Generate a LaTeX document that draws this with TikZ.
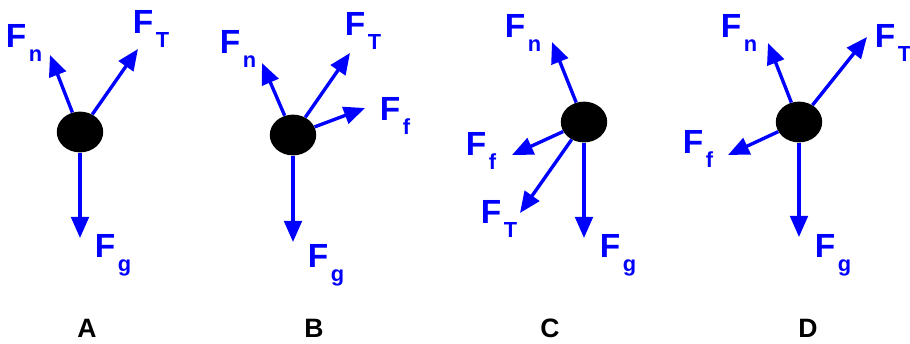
\documentclass[tikz,border=0pt]{standalone}
\usepackage{fontspec}
\setmainfont{Liberation Sans}
\usepackage{xcolor}
\usetikzlibrary{arrows.meta,shapes.geometric}
\definecolor{forceBlue}{HTML}{0000FF}
\newcommand{\forcelab}[1]{F\kern0.08em\raisebox{-0.42em}{\fontsize{15.5pt}{16pt}\selectfont #1}}
\tikzset{
  ball/.style={ellipse, fill=black, draw=none, minimum width=33pt, minimum height=29pt, inner sep=0pt},
  forcearrow/.style={-{Triangle[length=15pt,width=12.5pt]}, line width=2.4pt, draw=forceBlue},
  forcelabel/.style={anchor=base west, inner sep=0pt, text=forceBlue, font=\fontsize{23.8pt}{26pt}\selectfont\bfseries},
  panellabel/.style={anchor=base, inner sep=0pt, font=\fontsize{18.9pt}{20pt}\selectfont\bfseries},
}

\begin{document}
\begin{tikzpicture}[x=0.025cm,y=-0.025cm]
  \useasboundingbox (0,0) rectangle (910,343);

  % Panel A
  \node[ball] (a_ball) at (80,132) {};
  \coordinate (a_fn_tip) at (50,55);
  \coordinate (a_ft_tip) at (138,49);
  \coordinate (a_fg_tip) at (80,238);
  \node[forcelabel] (a_fn) at (5.5,47) {\forcelab{n}};
  \node[forcelabel] (a_ft) at (132.5,33) {\forcelab{T}};
  \node[forcelabel] (a_fg) at (94.5,257) {\forcelab{g}};
  \draw[forcearrow] (a_ball) -- (a_fn_tip);
  \draw[forcearrow] (a_ball) -- (a_ft_tip);
  \draw[forcearrow] (a_ball) -- (a_fg_tip);
  \node[panellabel] (lab_a) at (87,337) {A};

  % Panel B
  \node[ball] (b_ball) at (293,135) {};
  \coordinate (b_fn_tip) at (262,63);
  \coordinate (b_ft_tip) at (350,53);
  \coordinate (b_ff_tip) at (365,108);
  \coordinate (b_fg_tip) at (293,242);
  \node[forcelabel] (b_fn) at (219.5,53) {\forcelab{n}};
  \node[forcelabel] (b_ft) at (344.5,35) {\forcelab{T}};
  \node[forcelabel] (b_ff) at (379.5,120) {\forcelab{f}};
  \node[forcelabel] (b_fg) at (307.5,267) {\forcelab{g}};
  \draw[forcearrow] (b_ball) -- (b_fn_tip);
  \draw[forcearrow] (b_ball) -- (b_ft_tip);
  \draw[forcearrow] (b_ball) -- (b_ff_tip);
  \draw[forcearrow] (b_ball) -- (b_fg_tip);
  \node[panellabel] (lab_b) at (314,337) {B};

  % Panel C
  \node[ball] (c_ball) at (584,122) {};
  \coordinate (c_fn_tip) at (552,42);
  \coordinate (c_ff_tip) at (512,155);
  \coordinate (c_ft_tip) at (520,213);
  \coordinate (c_fg_tip) at (584,238);
  \node[forcelabel] (c_fn) at (504.5,37) {\forcelab{n}};
  \node[forcelabel] (c_ff) at (465.5,155) {\forcelab{f}};
  \node[forcelabel] (c_ft) at (480.5,223) {\forcelab{T}};
  \node[forcelabel] (c_fg) at (599.5,257) {\forcelab{g}};
  \draw[forcearrow] (c_ball) -- (c_fn_tip);
  \draw[forcearrow] (c_ball) -- (c_ff_tip);
  \draw[forcearrow] (c_ball) -- (c_ft_tip);
  \draw[forcearrow] (c_ball) -- (c_fg_tip);
  \node[panellabel] (lab_c) at (550,337) {C};

  % Panel D
  \node[ball] (d_ball) at (799,122) {};
  \coordinate (d_fn_tip) at (768,43);
  \coordinate (d_ft_tip) at (867,37);
  \coordinate (d_ff_tip) at (728,155);
  \coordinate (d_fg_tip) at (799,237);
  \node[forcelabel] (d_fn) at (720.5,37) {\forcelab{n}};
  \node[forcelabel] (d_ft) at (874.5,47) {\forcelab{T}};
  \node[forcelabel] (d_ff) at (682.5,153) {\forcelab{f}};
  \node[forcelabel] (d_fg) at (814.5,257) {\forcelab{g}};
  \draw[forcearrow] (d_ball) -- (d_fn_tip);
  \draw[forcearrow] (d_ball) -- (d_ft_tip);
  \draw[forcearrow] (d_ball) -- (d_ff_tip);
  \draw[forcearrow] (d_ball) -- (d_fg_tip);
  \node[panellabel] (lab_d) at (808,337) {D};
\end{tikzpicture}
\end{document}
